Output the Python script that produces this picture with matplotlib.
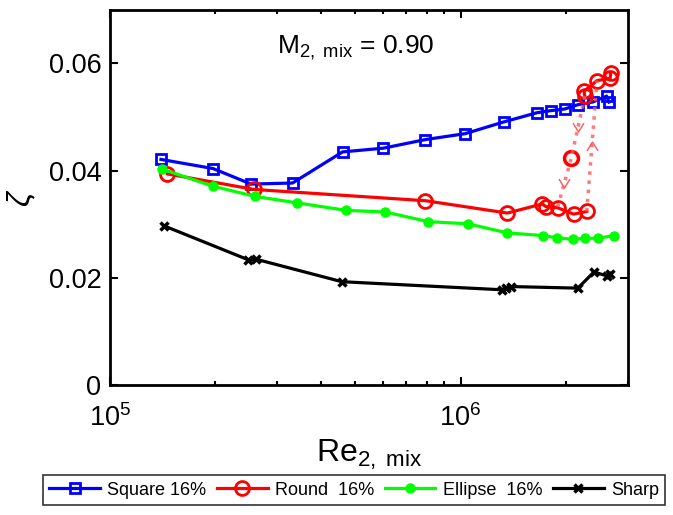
import numpy as np
import matplotlib
matplotlib.use("Agg")
import matplotlib.pyplot as plt
from matplotlib.path import Path

plt.rcParams['font.family'] = ['Liberation Sans', 'DejaVu Sans']
plt.rcParams['mathtext.fontset'] = 'custom'
plt.rcParams['mathtext.rm'] = 'Liberation Sans'
plt.rcParams['mathtext.it'] = 'Liberation Sans:italic'

# ---------------- data ----------------
sq_re = [1.40e5, 1.97e5, 2.53e5, 3.32e5, 4.61e5, 6.03e5, 7.94e5, 1.03e6, 1.33e6,
         1.65e6, 1.81e6, 1.98e6, 2.16e6, 2.38e6, 2.61e6, 2.65e6]
sq_zeta = [0.0421, 0.0404, 0.0375, 0.0377, 0.0435, 0.0442, 0.0458, 0.0469, 0.0491,
           0.0508, 0.0512, 0.0515, 0.0523, 0.0528, 0.0539, 0.0528]

rd_low_re = [1.46e5, 2.58e5, 7.94e5, 1.36e6, 1.71e6, 1.75e6, 1.89e6, 2.10e6, 2.29e6]
rd_low_zeta = [0.0394, 0.0365, 0.0344, 0.0321, 0.0338, 0.0333, 0.0331, 0.0319, 0.0324]
rd_high_re = [2.26e6, 2.25e6, 2.45e6, 2.67e6, 2.68e6]
rd_high_zeta = [0.0539, 0.0548, 0.0568, 0.0572, 0.0583]
rd_mid_re = [2.07e6]
rd_mid_zeta = [0.0424]
# hysteresis paths
up_re = [2.29e6, 2.45e6]
up_zeta = [0.0324, 0.0568]
down_re = [2.26e6, 2.07e6, 1.89e6]
down_zeta = [0.0539, 0.0424, 0.0331]

el_re = [1.41e5, 1.97e5, 2.60e5, 3.42e5, 4.72e5, 6.10e5, 8.09e5, 1.05e6, 1.36e6,
         1.72e6, 1.88e6, 2.09e6, 2.27e6, 2.47e6, 2.73e6]
el_zeta = [0.0403, 0.0371, 0.0352, 0.0340, 0.0326, 0.0323, 0.0305, 0.0301, 0.0284,
           0.0279, 0.0275, 0.0272, 0.0274, 0.0274, 0.0279]

sh_re = [1.43e5, 2.48e5, 2.61e5, 4.59e5, 1.31e6, 1.345e6, 1.39e6, 2.16e6, 2.40e6, 2.61e6, 2.67e6]
sh_zeta = [0.0297, 0.0234, 0.0235, 0.0193, 0.0178, 0.0182, 0.0184, 0.0181, 0.0211, 0.0204, 0.0208]

labels = ['Square 16%', 'Round  16%', 'Ellipse  16%', 'Sharp']
yticks = [0, 0.02, 0.04, 0.06]
ytick_labels = ['0', '0.02', '0.04', '0.06']

# ---------------- figure ----------------
fig = plt.figure(figsize=(6.73, 5.15), dpi=100)
ax = fig.add_axes([0.163, 0.252, 0.770, 0.729])

lw = 2.3
h1, = ax.plot(sq_re, sq_zeta, '-s', color='b', lw=lw, ms=7.5, mew=2, mfc='none', label=labels[0])
h2, = ax.plot(rd_low_re, rd_low_zeta, '-o', color='r', lw=lw, ms=10, mew=2, mfc='none', label=labels[1])
ax.plot(rd_high_re, rd_high_zeta, '-o', color='r', lw=lw, ms=10, mew=2, mfc='none')
ax.plot(rd_mid_re, rd_mid_zeta, 'o', color='r', ms=10, mew=2.5, mfc='none')

hyst_col = (1.0, 0.35, 0.35)
ax.plot(up_re, up_zeta, ':', color=hyst_col, lw=2.5, alpha=0.8)
ax.plot(down_re, down_zeta, ':', color=hyst_col, lw=2.5, alpha=0.8)

chev_up = Path([(-1, -0.8), (0, 0.8), (1, -0.8)], [Path.MOVETO, Path.LINETO, Path.LINETO])
chev_dn = Path([(-1, 0.8), (0, -0.8), (1, 0.8)], [Path.MOVETO, Path.LINETO, Path.LINETO])

def midpoints(xs, ys):
    lx = np.log10(xs)
    ys = np.asarray(ys)
    return 10 ** ((lx[:-1] + lx[1:]) / 2), (ys[:-1] + ys[1:]) / 2

mx, my = midpoints(up_re, up_zeta)
ax.plot(mx, my, linestyle='none', marker=chev_up, ms=8, mew=1, color=hyst_col, mfc='none')
mx, my = midpoints(down_re, down_zeta)
ax.plot(mx, my, linestyle='none', marker=chev_dn, ms=8, mew=1, color=hyst_col, mfc='none')

h3, = ax.plot(el_re, el_zeta, '-o', color=(0, 1, 0), lw=lw, ms=6.5, mew=1, label=labels[2])
h4, = ax.plot(sh_re, sh_zeta, '-x', color='k', lw=lw, ms=6, mew=2.5, label=labels[3])

ax.set_xscale('log')
ax.set_xlim(1e5, 3e6)
ax.set_ylim(0, 0.07)
ax.set_yticks(yticks)
ax.set_yticklabels(ytick_labels)
ax.tick_params(which='both', direction='in', top=True, right=True, labelsize=19.5, width=1.5)
ax.tick_params(which='major', length=6)
ax.tick_params(which='minor', length=3)
ax.tick_params(axis='x', which='major', pad=14)
ax.tick_params(axis='y', which='major', pad=6)
for s in ax.spines.values():
    s.set_linewidth(2)

ax.set_xlabel(r'Re$_{\rm 2,\ mix}$', fontsize=23, labelpad=4)
ax.set_ylabel(r'$\zeta$', fontsize=23, labelpad=8)
ax.text(0.475, 0.90, r'M$_{\rm 2,\ mix}$ = 0.90', transform=ax.transAxes,
        fontsize=19, ha='center', va='center')

leg = fig.legend(handles=[h1, h2, h3, h4], loc='lower center', bbox_to_anchor=(0.526, 0.002),
                 ncol=4, fontsize=13, frameon=True, fancybox=False, edgecolor='k',
                 handlelength=2.8, columnspacing=0.6, handletextpad=0.4, borderpad=0.35)
leg.get_frame().set_linewidth(1.2)

fig.savefig('out.png', dpi=100)
